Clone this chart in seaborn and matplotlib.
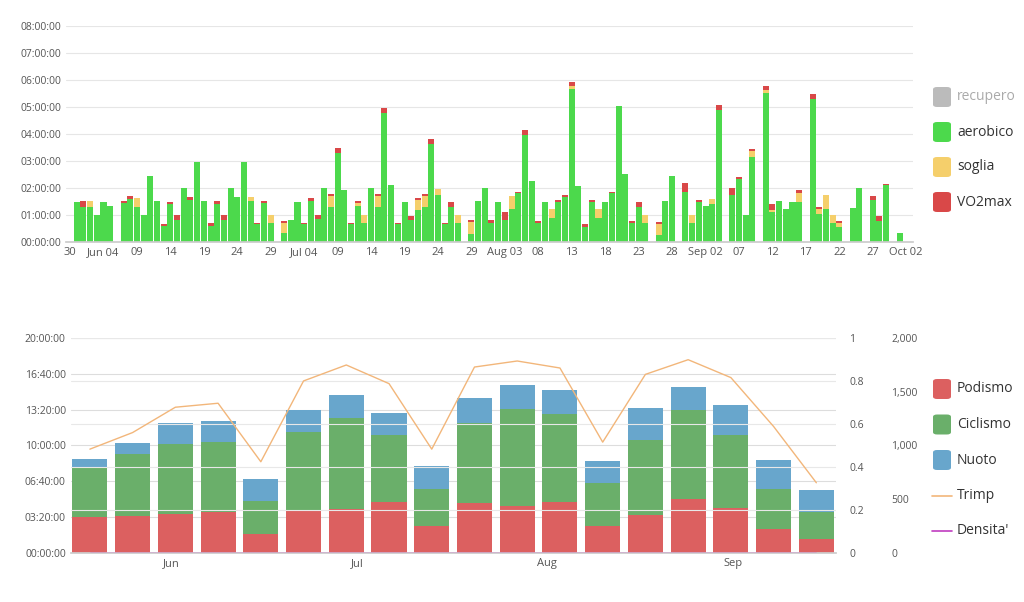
import numpy as np
import pandas as pd
import matplotlib
matplotlib.use("Agg")
import matplotlib.pyplot as plt
from matplotlib.patches import FancyBboxPatch
from matplotlib.lines import Line2D
import seaborn as sns

# ---------- data: top chart (daily hours, index 0 = May 30) ----------
start_date = "2015-05-30"
aerobico = [0, 1.48, 1.3, 1.3, 1.0, 1.48, 1.35, 0, 1.43, 1.6, 1.3, 1.0, 2.46, 1.5, 0.6, 1.4, 0.8, 2.0, 1.57, 2.98,
            1.5, 0.61, 1.4, 0.8, 2.0, 1.67, 2.98, 1.5, 0.66, 1.43, 0.72, 0, 0.32, 0.82, 1.48, 0.66, 1.52, 0.84, 2.0, 1.28,
            3.28, 1.94, 0.66, 1.33, 0.72, 2.0, 1.28, 4.77, 2.1, 0.66, 1.48, 0.8, 1.18, 1.3, 3.62, 1.74, 0.66, 1.3, 0.72, 0,
            0.3, 1.5, 2.0, 0.72, 1.48, 0.82, 1.23, 1.8, 3.95, 2.27, 0.7, 1.48, 0.88, 1.49, 1.67, 5.66, 2.08, 0.56, 1.48, 0.89,
            1.48, 1.8, 5.02, 2.51, 0.7, 1.3, 0.72, 0, 0.26, 1.5, 2.46, 0, 1.84, 0.72, 1.48, 1.33, 1.42, 4.87, 0, 1.75,
            2.33, 1.0, 3.16, 0, 5.5, 1.1, 1.5, 1.24, 1.48, 1.48, 0, 5.28, 1.05, 1.23, 0.72, 0.54, 0, 1.27, 2.0, 0,
            1.54, 0.78, 2.1, 0, 0.35, 0]
soglia = [0, 0, 0, 0.23, 0, 0, 0, 0, 0, 0, 0.34, 0, 0, 0, 0, 0, 0, 0, 0, 0,
          0, 0, 0, 0, 0, 0, 0, 0.17, 0, 0, 0.28, 0, 0.4, 0, 0, 0, 0, 0, 0, 0.44,
          0, 0, 0, 0.1, 0.28, 0, 0.44, 0, 0, 0, 0, 0, 0.37, 0.41, 0, 0.22, 0, 0, 0.28, 0,
          0.44, 0, 0, 0, 0, 0, 0.49, 0, 0, 0, 0, 0, 0.35, 0, 0, 0.12, 0, 0, 0, 0.35,
          0, 0, 0, 0, 0, 0, 0.28, 0, 0.39, 0, 0, 0, 0, 0.28, 0, 0, 0.16, 0, 0, 0,
          0, 0, 0.2, 0, 0.12, 0.1, 0, 0, 0, 0.32, 0, 0, 0.18, 0.5, 0.28, 0.18, 0, 0, 0, 0,
          0, 0, 0, 0, 0, 0]
vo2max = [0, 0, 0.2, 0, 0, 0, 0, 0, 0.07, 0.1, 0, 0, 0, 0, 0.07, 0.08, 0.2, 0, 0.1, 0,
          0, 0.1, 0.1, 0.2, 0, 0, 0, 0, 0.06, 0.07, 0, 0, 0.07, 0, 0, 0.06, 0.1, 0.16, 0, 0.06,
          0.2, 0, 0.06, 0.07, 0, 0, 0.07, 0.2, 0, 0.06, 0, 0.16, 0.07, 0.07, 0.2, 0, 0.06, 0.18, 0, 0,
          0.06, 0, 0, 0.1, 0, 0.3, 0, 0.06, 0.18, 0, 0.07, 0, 0, 0.06, 0.06, 0.16, 0, 0.1, 0.07, 0,
          0, 0.06, 0, 0, 0.07, 0.18, 0, 0, 0.08, 0, 0, 0, 0.34, 0, 0.07, 0, 0, 0.2, 0, 0.24,
          0.07, 0, 0.07, 0, 0.16, 0.2, 0, 0, 0, 0.12, 0, 0.2, 0.08, 0, 0, 0.07, 0, 0, 0, 0,
          0.15, 0.18, 0.05, 0, 0, 0]

# ---------- data: bottom chart (weekly hours) ----------
podismo = [3.33, 3.49, 3.64, 3.8, 1.79, 4.01, 4.07, 4.78, 2.5, 4.66, 4.35, 4.78, 2.5, 3.55, 5.03, 4.17, 2.25, 1.33]
ciclismo = [4.57, 5.71, 6.48, 6.5, 3.02, 7.22, 8.52, 6.18, 3.49, 7.47, 9.05, 8.15, 3.98, 6.94, 8.27, 6.82, 3.74, 2.47]
nuoto = [0.83, 1.0, 1.92, 1.98, 2.07, 2.07, 2.1, 2.06, 2.07, 2.28, 2.22, 2.22, 2.1, 3.0, 2.13, 2.78, 2.65, 2.06]
trimp = [966, 1120, 1355, 1392, 849, 1599, 1747, 1574, 966, 1728, 1784, 1719, 1031, 1660, 1796, 1630, 1176, 654]
densita = [0] * 18
month_labels = ["Jun", "Jul", "Aug", "Sep"]
month_pos = [1.9, 6.26, 10.7, 15.05]

C_AER, C_SOG, C_VO2, C_REC = "#4cd94c", "#f5cf6b", "#d94848", "#bbbbbb"
C_POD, C_CIC, C_NUO = "#dc6060", "#6aaf6a", "#68a6cc"
C_TRIMP, C_DENS = "#f2b67a", "#c03cc0"

sns.set_theme(style="white")
plt.rcParams["font.family"] = ["Open Sans", "DejaVu Sans"]
TXT = "#555555"

fig = plt.figure(figsize=(10.24, 6.02), dpi=100)

def hms(v, _=None):
    s = int(round(v * 3600))
    return f"{s // 3600:02d}:{(s % 3600) // 60:02d}:{s % 60:02d}"

# ---------- top chart ----------
n = len(aerobico)
idx = list(range(n))
a = np.array(aerobico); so = np.array(soglia); vo = np.array(vo2max)
ax = fig.add_axes([0.0645, 0.598, 0.827, 0.359])
common = dict(width=0.9, saturation=1, linewidth=0, ax=ax, native_scale=True)
sns.barplot(x=idx, y=a + so + vo, color=C_VO2, **common)
sns.barplot(x=idx, y=a + so, color=C_SOG, **common)
sns.barplot(x=idx, y=a, color=C_AER, **common)
ax.set_xlim(-0.6, 126)
ax.set_ylim(0, 8)
ax.set_yticks(range(0, 9))
ax.yaxis.set_major_formatter(plt.FuncFormatter(hms))
dates = pd.date_range(start_date, periods=n, freq="D")
tpos = list(range(0, n, 5))
tlabels, prev_month = [], None
for p in tpos:
    d = dates[p]
    tlabels.append(d.strftime("%b %d") if (prev_month is not None and d.month != prev_month) else d.strftime("%d"))
    prev_month = d.month
ax.set_xticks(tpos)
ax.set_xticklabels(tlabels)
ax.grid(axis="y", color="#e6e6e6", linewidth=0.8)
ax.set_axisbelow(True)
for s in ["top", "right", "left"]:
    ax.spines[s].set_visible(False)
ax.spines["bottom"].set_color("#cccccc")
ax.tick_params(axis="x", labelsize=8, colors=TXT, length=0)
ax.tick_params(axis="y", labelsize=7.5, colors=TXT, length=0)
ax.set_xlabel(""); ax.set_ylabel("")

# ---------- bottom chart ----------
bx = fig.add_axes([0.069, 0.081, 0.747, 0.358])
w = list(range(len(podismo)))
p = np.array(podismo); c = np.array(ciclismo); nu = np.array(nuoto)
bc = dict(width=0.82, saturation=1, linewidth=0, ax=bx, native_scale=True)
sns.barplot(x=w, y=p + c + nu, color=C_NUO, **bc)
sns.barplot(x=w, y=p + c, color=C_CIC, **bc)
sns.barplot(x=w, y=p, color=C_POD, **bc)
bx.set_xlim(-0.45, 17.45)
bx.set_ylim(0, 20)
bx.set_yticks(np.arange(0, 20.01, 10 / 3))
bx.yaxis.set_major_formatter(plt.FuncFormatter(hms))
bx.set_xticks(month_pos)
bx.set_xticklabels(month_labels)
bx.grid(axis="y", color="#dddddd", linewidth=0.8)
bx.set_axisbelow(True)
for s in ["top", "right", "left"]:
    bx.spines[s].set_visible(False)
bx.spines["bottom"].set_color("#cccccc")
bx.tick_params(axis="x", labelsize=8, colors=TXT, length=0)
bx.tick_params(axis="y", labelsize=7.5, colors=TXT, length=0)

dx = bx.twinx()
sns.lineplot(x=w, y=densita, color=C_DENS, linewidth=1, ax=dx)
dx.set_ylim(0, 1)
dx.set_yticks(np.arange(0, 1.01, 0.2))
dx.set_yticklabels(["0", "0.2", "0.4", "0.6", "0.8", "1"])
dx.grid(axis="y", color="#e8e8e8", linewidth=0.8)
dx.tick_params(axis="y", labelsize=7.5, colors=TXT, length=0, pad=10)

tx = bx.twinx()
sns.lineplot(x=w, y=trimp, color=C_TRIMP, linewidth=1, ax=tx)
tx.set_ylim(0, 2000)
tx.set_yticks([0, 500, 1000, 1500, 2000])
tx.set_yticklabels(["0", "500", "1,000", "1,500", "2,000"])
tx.tick_params(axis="y", labelsize=7.5, colors=TXT, length=0, pad=40)
for a_ in (dx, tx):
    for s in a_.spines.values():
        s.set_visible(False)
    a_.set_ylabel("")
bx.set_xlim(-0.45, 17.45)

# ---------- legends ----------
def patch(yc, color):
    fig.patches.append(FancyBboxPatch((933 / 1024, 1 - (yc + 10) / 602), 18 / 1024, 20 / 602,
                                      boxstyle="round,pad=0.0,rounding_size=0.004",
                                      transform=fig.transFigure, facecolor=color, edgecolor="none"))

def line(yc, color):
    fig.lines.append(Line2D([932 / 1024, 952 / 1024], [1 - yc / 602] * 2, transform=fig.transFigure,
                            color=color, linewidth=1.2))

top_leg = [("recupero", C_REC, "#aaaaaa"), ("aerobico", C_AER, "#333333"),
           ("soglia", C_SOG, "#333333"), ("VO2max", C_VO2, "#333333")]
for i, (lab, col, tc) in enumerate(top_leg):
    yc = 97 + i * 35
    patch(yc, col)
    fig.text(957 / 1024, 1 - yc / 602, lab, va="center", fontsize=10, color=tc)

bot_leg = [("Podismo", C_POD, "p"), ("Ciclismo", C_CIC, "p"), ("Nuoto", C_NUO, "p"),
           ("Trimp", C_TRIMP, "l"), ("Densita'", C_DENS, "l")]
for i, (lab, col, kind) in enumerate(bot_leg):
    yc = 389 + i * 35.5
    patch(yc, col) if kind == "p" else line(yc, col)
    fig.text(957 / 1024, 1 - yc / 602, lab, va="center", fontsize=10, color="#333333")

fig.savefig("out.png", dpi=100)
